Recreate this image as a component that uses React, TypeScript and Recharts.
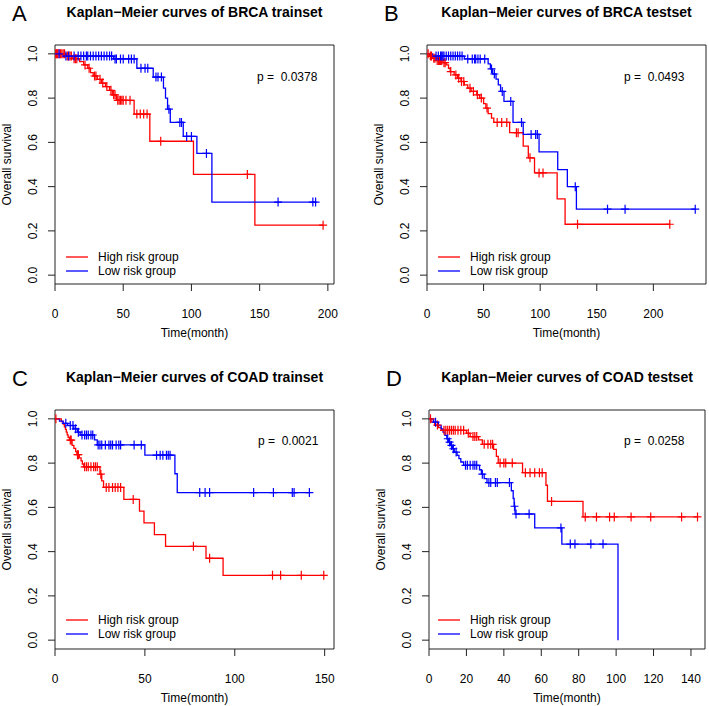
import React from 'react';
import {
  ComposedChart,
  Line,
  XAxis,
  YAxis,
  ReferenceArea,
  Legend,
} from 'recharts';

// ---- data: [time, survival after the drop] and censor times ----

const A_HIGH_EVENTS: [number, number][] = [
  [8, 0.99], [13, 0.978], [18, 0.965], [21, 0.95], [24, 0.935], [26, 0.915], [28, 0.9],
  [31, 0.885], [34, 0.868], [37, 0.852], [40, 0.835], [42, 0.815], [45, 0.79], [58, 0.728],
  [69.5, 0.605], [101.5, 0.455], [146.5, 0.226],
];
const A_HIGH_CENSORED = [
  0.5, 1, 1.5, 2, 3, 4, 5, 6, 7, 9, 10, 11, 12, 14, 15, 16, 22, 25, 29, 30, 33, 35, 38, 41,
  43, 44, 46, 47, 48, 49, 50, 52, 55, 60, 62.5, 65, 67.5, 77.5, 141, 196.5,
];
const A_LOW_EVENTS: [number, number][] = [
  [6, 0.99], [43, 0.977], [60, 0.935], [72, 0.895], [79.5, 0.845], [81, 0.8], [82.5, 0.75],
  [84.5, 0.69], [94, 0.627], [104, 0.55], [115, 0.33],
];
const A_LOW_CENSORED = [
  3, 8, 10, 14, 17, 19, 21, 23, 24, 26, 28, 30, 32, 34, 36, 38, 40, 41.5, 44, 45, 48, 50, 54,
  56, 58, 63, 66, 68, 74, 75.5, 78, 83.5, 91.5, 92.7, 96.5, 100, 111, 163.5, 189, 191,
];

const B_HIGH_EVENTS: [number, number][] = [
  [2, 0.99], [5, 0.98], [8, 0.97], [14, 0.96], [17, 0.95], [19, 0.935], [20.5, 0.92],
  [24, 0.905], [27, 0.89], [30, 0.875], [33, 0.86], [36, 0.845], [39, 0.83], [44, 0.815],
  [46.5, 0.8], [50, 0.775], [52, 0.755], [54, 0.73], [57, 0.71], [59, 0.69], [73, 0.644],
  [85, 0.583], [89.5, 0.53], [95, 0.462], [115, 0.345], [122, 0.23],
];
const B_HIGH_CENSORED = [
  1, 3, 4, 6, 7, 9, 10, 11, 12, 13, 15, 16, 21, 25.5, 28, 30.5, 32.5, 38, 41, 44.5, 48, 53,
  62, 66, 70.5, 79, 80.5, 91, 99, 102.5, 133, 214.5,
];
const B_LOW_EVENTS: [number, number][] = [
  [5, 0.99], [33, 0.977], [54, 0.955], [56, 0.932], [58, 0.909], [61, 0.886], [63, 0.86],
  [65, 0.83], [68, 0.785], [76, 0.69], [85, 0.636], [99, 0.557], [115.5, 0.477], [124, 0.4],
  [132, 0.298],
];
const B_LOW_CENSORED = [
  8, 10, 12, 13, 14, 15, 17, 19, 21, 23, 25, 27, 29, 31, 36, 40, 42, 43, 45, 47, 51, 57, 59.5,
  66.5, 74, 83.5, 92, 96, 97.5, 131, 159.5, 175, 237,
];

const C_HIGH_EVENTS: [number, number][] = [
  [3.5, 0.988], [4.5, 0.976], [5.2, 0.964], [5.8, 0.952], [6.3, 0.94], [6.8, 0.928],
  [7.3, 0.916], [8, 0.904], [9.5, 0.88], [10.5, 0.867], [11.5, 0.852], [12.2, 0.838],
  [13.5, 0.824], [14.5, 0.81], [15.2, 0.796], [16, 0.783], [25, 0.75], [26, 0.72], [27, 0.69],
  [38.3, 0.636], [47, 0.583], [49.5, 0.53], [55.3, 0.477], [61.5, 0.424], [84, 0.37],
  [93.5, 0.293],
];
const C_HIGH_CENSORED = [
  0.5, 8.5, 9, 12.5, 13, 16.5, 17.5, 18.5, 20, 21.5, 22.5, 23.5, 25.5, 28.5, 30, 32, 33.5, 35,
  36.5, 43.5, 77, 86, 121, 125.5, 137, 149.5,
];
const C_LOW_EVENTS: [number, number][] = [
  [2.5, 0.99], [4.5, 0.98], [7, 0.97], [10.5, 0.955], [12.5, 0.94], [14, 0.927], [22, 0.905],
  [23.5, 0.882], [50, 0.836], [66.7, 0.752], [68, 0.667],
];
const C_LOW_CENSORED = [
  6, 8.5, 10, 11.5, 13, 15, 16.5, 17.5, 18.5, 20, 21, 24, 25, 26, 28, 30, 31, 32, 34, 35.5,
  36.5, 44, 48, 56.5, 58.5, 60, 62, 63, 64, 80.5, 83.5, 86, 110.5, 121.5, 132, 133, 141.5,
];

const D_HIGH_EVENTS: [number, number][] = [
  [1.5, 0.985], [3, 0.972], [5, 0.96], [6.5, 0.948], [20, 0.935], [22, 0.92], [26.5, 0.905],
  [28.5, 0.885], [34.5, 0.862], [36, 0.83], [37, 0.8], [50, 0.757], [62.5, 0.7], [63.3, 0.627],
  [82.3, 0.557],
];
const D_HIGH_CENSORED = [
  0.8, 4.5, 8, 9, 10, 11, 12, 13, 14, 15.5, 17, 18.5, 21, 23.5, 24.5, 25.5, 29.5, 31.5, 33, 34,
  38, 40, 41, 44.5, 51.5, 54, 56.5, 59, 60.5, 65.5, 83.5, 89.5, 96.5, 99, 108, 118.5, 135, 143.5,
];
const D_LOW_EVENTS: [number, number][] = [
  [2.5, 0.985], [5, 0.97], [6.5, 0.955], [7.5, 0.94], [8.5, 0.925], [9.5, 0.91], [10.5, 0.895],
  [11.5, 0.88], [12.5, 0.865], [13.5, 0.85], [15, 0.835], [16, 0.82], [17, 0.805], [18.5, 0.79],
  [27, 0.77], [28, 0.75], [29.5, 0.73], [31, 0.712], [44, 0.675], [45, 0.64], [45.5, 0.605],
  [46, 0.57], [56.5, 0.507], [71, 0.434], [101, 0],
];
const D_LOW_CENSORED = [
  3.5, 10, 11, 12, 13, 14.5, 19.5, 20.5, 22, 23.5, 24.5, 25.5, 28.5, 32, 33, 35.5, 36.5, 43,
  45.7, 46.5, 53.5, 70.5, 75.5, 78, 86.5, 93,
];

const A_X_TICKS = [0, 50, 100, 150, 200];
const B_X_TICKS = [0, 50, 100, 150, 200];
const C_X_TICKS = [0, 50, 100, 150];
const D_X_TICKS = [0, 20, 40, 60, 80, 100, 120, 140];
const Y_TICKS = [0, 0.2, 0.4, 0.6, 0.8, 1];

const TITLES = [
  'Kaplan\u2212Meier curves of BRCA trainset',
  'Kaplan\u2212Meier curves of BRCA testset',
  'Kaplan\u2212Meier curves of COAD trainset',
  'Kaplan\u2212Meier curves of COAD testset',
];
const LETTERS = ['A', 'B', 'C', 'D'];
const P_VALUES = ['0.0378', '0.0493', '0.0021', '0.0258'];
const GROUPS = ['High risk group', 'Low risk group'];

// ---- styling ----

const FONT = '"Liberation Sans", Arial, Helvetica, sans-serif';
const INK = '#222';
const RED = '#FF0000';
const BLUE = '#0000FF';
const PANEL_W = 354;
const PANEL_H = 353;
const Y_AXIS_W = 40;
const X_AXIS_H = 40;

type KmPoint = { t: number; s: number; c: boolean };

// step points for the KM curve; censored rows sit on the current level
function kmPoints(events: [number, number][], censored: number[]): KmPoint[] {
  const items = [
    ...events.map(([t, s]) => ({ t, s, c: false })),
    ...censored.map((t) => ({ t, s: 0, c: true })),
  ].sort((a, b) => a.t - b.t || Number(a.c) - Number(b.c));
  let cur = 1;
  const pts: KmPoint[] = [{ t: 0, s: 1, c: false }];
  for (const it of items) {
    if (!it.c) cur = it.s;
    pts.push({ t: it.t, s: cur, c: it.c });
  }
  return pts;
}

function censorDot(color: string) {
  return (props: any) => {
    const { cx, cy, payload, index } = props;
    if (!payload?.c || cx == null || cy == null) return <g key={`n-${index}`} />;
    return (
      <path
        key={`c-${index}`}
        d={`M${cx - 4},${cy}H${cx + 4}M${cx},${cy - 4.5}V${cy + 4.5}`}
        stroke={color}
        strokeWidth={1.2}
        fill="none"
      />
    );
  };
}

function RotatedTick(props: any) {
  const { x, y, payload } = props;
  return (
    <text
      x={x}
      y={y}
      dy="0.35em"
      textAnchor="middle"
      transform={`rotate(-90, ${x}, ${y})`}
      fontSize={12}
      fontFamily={FONT}
      fill="#000"
    >
      {Number(payload.value).toFixed(1)}
    </text>
  );
}

function KmLegend({ payload }: any) {
  const items = (payload ?? []).map((p: any) => ({ label: p.value, color: p.color }));
  return (
    <div style={{ fontFamily: FONT, fontSize: 12, color: '#000' }}>
      {items.map((it: any) => (
        <div key={it.label} style={{ display: 'flex', alignItems: 'center', height: 13.5 }}>
          <svg width={32} height={10} style={{ flex: 'none' }}>
            <line x1={0} x2={22} y1={5} y2={5} stroke={it.color} strokeWidth={1.3} />
          </svg>
          <span style={{ whiteSpace: 'nowrap' }}>{it.label}</span>
        </div>
      ))}
    </div>
  );
}

interface PanelCfg {
  idx: number;
  ox: number;
  oy: number;
  left: number;
  right: number;
  top: number;
  bottom: number;
  xMax: number;
  xTicks: number[];
  high: KmPoint[];
  low: KmPoint[];
  pX: number;
  pY: number;
  legX: number;
  legY: number;
}

const PANELS: PanelCfg[] = [
  {
    idx: 0, ox: 0, oy: 0, left: 55, right: 334, top: 45, bottom: 284, xMax: 204.5,
    xTicks: A_X_TICKS, high: kmPoints(A_HIGH_EVENTS, A_HIGH_CENSORED),
    low: kmPoints(A_LOW_EVENTS, A_LOW_CENSORED), pX: 257, pY: 77, legX: 66, legY: 257,
  },
  {
    idx: 1, ox: 354, oy: 0, left: 427, right: 706, top: 45, bottom: 284, xMax: 246.5,
    xTicks: B_X_TICKS, high: kmPoints(B_HIGH_EVENTS, B_HIGH_CENSORED),
    low: kmPoints(B_LOW_EVENTS, B_LOW_CENSORED), pX: 270, pY: 77, legX: 84, legY: 257,
  },
  {
    idx: 2, ox: 0, oy: 353, left: 55, right: 334, top: 410, bottom: 649, xMax: 155.2,
    xTicks: C_X_TICKS, high: kmPoints(C_HIGH_EVENTS, C_HIGH_CENSORED),
    low: kmPoints(C_LOW_EVENTS, C_LOW_CENSORED), pX: 258, pY: 88, legX: 66, legY: 267,
  },
  {
    idx: 3, ox: 354, oy: 353, left: 429, right: 705, top: 410, bottom: 649, xMax: 147.5,
    xTicks: D_X_TICKS, high: kmPoints(D_HIGH_EVENTS, D_HIGH_CENSORED),
    low: kmPoints(D_LOW_EVENTS, D_LOW_CENSORED), pX: 270, pY: 88, legX: 84, legY: 267,
  },
];

function KmPanel({ cfg }: { cfg: PanelCfg }) {
  const margin = {
    left: cfg.left - cfg.ox - Y_AXIS_W,
    right: cfg.ox + PANEL_W - cfg.right,
    top: cfg.top - cfg.oy,
    bottom: cfg.oy + PANEL_H - cfg.bottom - X_AXIS_H,
  };
  // panel-relative plot box
  const pl = cfg.left - cfg.ox;
  const pr = cfg.right - cfg.ox;
  const pt = cfg.top - cfg.oy;
  const pb = cfg.bottom - cfg.oy;
  const midX = (pl + pr) / 2;
  const midY = (pt + pb) / 2;

  return (
    <div style={{ position: 'absolute', left: cfg.ox, top: cfg.oy, width: PANEL_W, height: PANEL_H }}>
      <ComposedChart width={PANEL_W} height={PANEL_H} margin={margin}>
        <XAxis
          type="number"
          dataKey="t"
          domain={[0, cfg.xMax]}
          ticks={cfg.xTicks}
          allowDataOverflow
          interval={0}
          height={X_AXIS_H}
          axisLine={false}
          tickLine={{ stroke: INK }}
          tickSize={7}
          tickMargin={18}
          tick={{ fontSize: 12, fill: '#000', fontFamily: FONT }}
        />
        <YAxis
          type="number"
          dataKey="s"
          domain={[-0.04, 1.04]}
          ticks={Y_TICKS}
          allowDataOverflow
          interval={0}
          width={Y_AXIS_W}
          axisLine={false}
          tickLine={{ stroke: INK }}
          tickSize={7}
          tickMargin={15}
          tick={<RotatedTick />}
        />
        <ReferenceArea
          x1={0}
          x2={cfg.xMax}
          y1={-0.04}
          y2={1.04}
          fill="none"
          stroke={INK}
          strokeWidth={1}
          ifOverflow="visible"
        />
        <Line
          data={cfg.high}
          dataKey="s"
          name={GROUPS[0]}
          type="stepAfter"
          stroke={RED}
          strokeWidth={1.3}
          dot={censorDot(RED)}
          activeDot={false}
          isAnimationActive={false}
        />
        <Line
          data={cfg.low}
          dataKey="s"
          name={GROUPS[1]}
          type="stepAfter"
          stroke={BLUE}
          strokeWidth={1.3}
          dot={censorDot(BLUE)}
          activeDot={false}
          isAnimationActive={false}
        />
        <Legend
          layout="vertical"
          align="center"
          verticalAlign="middle"
          content={<KmLegend />}
          wrapperStyle={{ left: cfg.legX, top: cfg.legY - 6.75, width: 160, height: 27 }}
        />
      </ComposedChart>
      <svg
        width={PANEL_W}
        height={PANEL_H}
        style={{ position: 'absolute', left: 0, top: 0, pointerEvents: 'none' }}
        fontFamily={FONT}
      >
        <text x={pl - 43} y={pt - 24} fontSize={22} fill="#000">
          {LETTERS[cfg.idx]}
        </text>
        <text x={midX} y={pt - 28} textAnchor="middle" fontSize={14} fontWeight="bold" fill="#000">
          {TITLES[cfg.idx]}
        </text>
        <text x={cfg.pX} y={cfg.pY} dy="0.35em" fontSize={12} fill="#000" style={{ whiteSpace: 'pre' }}>
          {`p =  ${P_VALUES[cfg.idx]}`}
        </text>
        <text
          x={pl - 48}
          y={midY}
          dy="0.35em"
          textAnchor="middle"
          transform={`rotate(-90, ${pl - 48}, ${midY})`}
          fontSize={12}
          fill="#000"
        >
          Overall survival
        </text>
        <text x={midX} y={pb + 49} dy="0.35em" textAnchor="middle" fontSize={12} fill="#000">
          Time(month)
        </text>
      </svg>
    </div>
  );
}

export default function App() {
  return (
    <div
      style={{
        position: 'absolute',
        left: 0,
        top: 0,
        width: 709,
        height: 706,
        background: '#fff',
        fontFamily: FONT,
      }}
    >
      {PANELS.map((cfg) => (
        <KmPanel key={cfg.idx} cfg={cfg} />
      ))}
    </div>
  );
}
